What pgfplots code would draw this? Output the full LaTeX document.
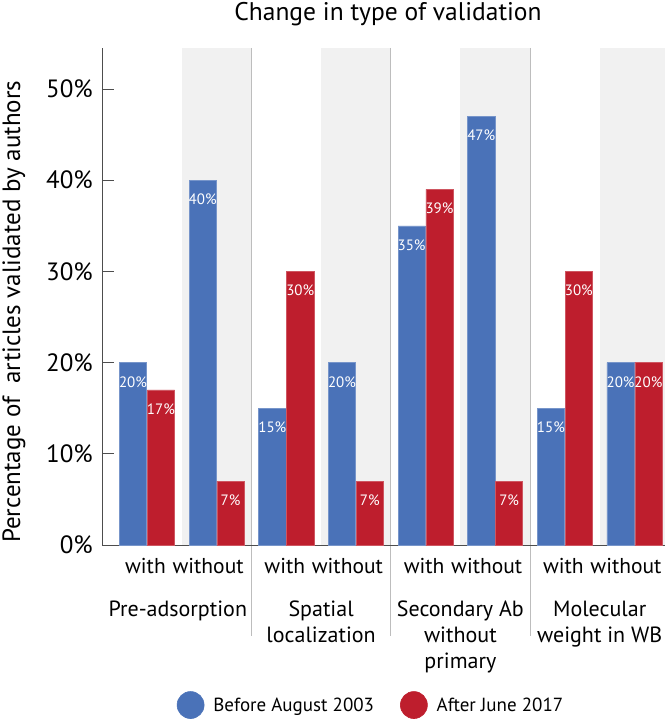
\documentclass[border=0pt]{standalone}
\usepackage{fontspec}
\setmainfont{PT Sans}
\usepackage{pgfplots}
\pgfplotsset{compat=1.18}
\definecolor{cblue}{HTML}{4A72B8}
\definecolor{cred}{HTML}{BE1E2D}
\definecolor{band}{HTML}{F1F1F1}
\definecolor{sepc}{HTML}{BDBDBD}
\definecolor{axc}{HTML}{4D4D4D}
\begin{document}
\begin{tikzpicture}
\begin{axis}[
  at={(0,0)}, anchor=south west,
  scale only axis, width=563bp, height=497bp,
  set layers, clip=false,
  ybar=0.7bp, bar width=27.2bp,
  xmin=-0.646, xmax=7.438, ymin=0, ymax=54.5,
  axis x line*=bottom, axis y line*=left,
  axis line style={axc, line width=0.9bp, -},
  xtick={0,2,4,6},
  xticklabels={with,with,with,with},
  extra x ticks={1,3,5,7},
  extra x tick labels={without,without,without,without},
  extra x tick style={xtick style={draw=none}, xticklabel style={xshift=-7bp}},
  xtick style={draw=none},
  xticklabel style={anchor=base, yshift=-28bp, xshift=-1.5bp, font=\fontsize{21.5bp}{24bp}\selectfont},
  ytick={0,10,20,30,40,50},
  yticklabels={0\%,10\%,20\%,30\%,40\%,50\%},
  ytick style={axc, line width=0.9bp},
  tick align=inside, major tick length=12bp,
  yticklabel style={font=\fontsize{25bp}{28bp}\selectfont, inner sep=0pt, xshift=-9bp},
  /pgf/number format/assume math mode=true,
  title={Change in type of validation},
  every axis title/.style={at={(axis description cs:0.508,1)}, anchor=base, yshift=27bp, font=\fontsize{25.5bp}{28bp}\selectfont},
  ylabel={Percentage of\ \ articles validated by authors},
  every axis y label/.style={at={(axis description cs:-0.1563,0.469)}, rotate=90, anchor=center, font=\fontsize{25bp}{28bp}\selectfont},
  nodes near coords={\pgfmathprintnumber{\pgfplotspointmeta}\%},
  every node near coord/.append style={font=\fontsize{15bp}{17bp}\selectfont, text=white, inner sep=0pt, yshift=-25bp},
  legend style={draw=none, fill=none, at={(axis description cs:0.1325,-0.322)}, anchor=west,
    legend columns=2, inner sep=0pt, font=\fontsize{19bp}{21bp}\selectfont,
    /tikz/every odd column/.append style={column sep=7bp},
    /tikz/every even column/.append style={column sep=24bp}},
]
\begin{pgfonlayer}{axis background}
\fill[band] (axis cs:0.5,0) rectangle (axis cs:1.5,54.5);
\fill[band] (axis cs:2.5,0) rectangle (axis cs:3.5,54.5);
\fill[band] (axis cs:4.5,0) rectangle (axis cs:5.5,54.5);
\fill[band] (axis cs:6.5,0) rectangle (axis cs:7.438,54.5);
\draw[sepc, line width=0.9bp] (axis cs:1.5,54.5) -- (axis cs:1.5,-9.98);
\draw[sepc, line width=0.9bp] (axis cs:3.5,54.5) -- (axis cs:3.5,-9.98);
\draw[sepc, line width=0.9bp] (axis cs:5.5,54.5) -- (axis cs:5.5,-9.98);
\end{pgfonlayer}
\addplot[fill=cblue, draw=cblue!75!white, line width=0.6bp,
  legend image code/.code={\fill[cblue] (13.5bp,0bp) circle (13.5bp);}]
  coordinates {(0,20) (1,40) (2,15) (3,20) (4,35) (5,47) (6,15) (7,20)};
\addplot[fill=cred, draw=cred!75!white, line width=0.6bp,
  legend image code/.code={\fill[cred] (13.5bp,0bp) circle (13.5bp);}]
  coordinates {(0,17) (1,7) (2,30) (3,7) (4,39) (5,7) (6,30) (7,20)};
\legend{Before August 2003, After June 2017}
\node[anchor=north, align=center, inner sep=0pt, font=\fontsize{22bp}{26bp}\selectfont] at (axis cs:0.5,0) [yshift=-56bp, xshift=-4bp] {Pre-adsorption};
\node[anchor=north, align=center, inner sep=0pt, font=\fontsize{22bp}{26bp}\selectfont] at (axis cs:2.5,0) [yshift=-56bp] {Spatial\\localization};
\node[anchor=north, align=center, inner sep=0pt, font=\fontsize{22bp}{26bp}\selectfont] at (axis cs:4.5,0) [yshift=-56bp] {Secondary Ab\\without\\primary};
\node[anchor=north, align=center, inner sep=0pt, font=\fontsize{22bp}{26bp}\selectfont] at (axis cs:6.5,0) [yshift=-56bp] {Molecular\\weight in WB};
\end{axis}
\pgfresetboundingbox
\path[use as bounding box] (-102bp,-175bp) rectangle (565bp,545bp);
\end{tikzpicture}
\end{document}
